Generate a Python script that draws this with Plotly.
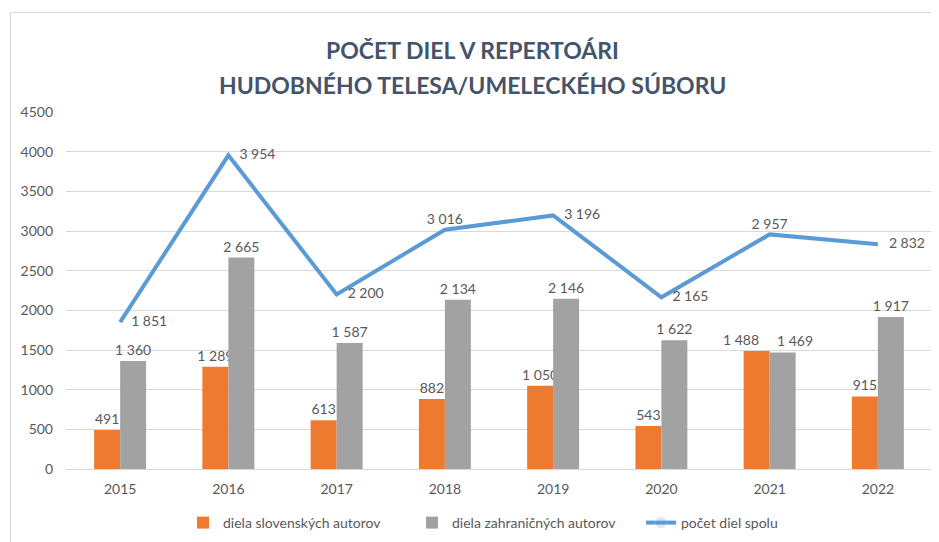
import plotly.graph_objects as go

# ---- data ----
YEARS = ["2015", "2016", "2017", "2018", "2019", "2020", "2021", "2022"]
SLOVAK = [491, 1289, 613, 882, 1050, 543, 1488, 915]
FOREIGN = [1360, 2665, 1587, 2134, 2146, 1622, 1469, 1917]
TOTAL = [1851, 3954, 2200, 3016, 3196, 2165, 2957, 2832]
SERIES_NAMES = ["diela slovenských autorov", "diela zahraničných autorov", "počet diel spolu"]
TITLE_LINES = ["POČET DIEL V REPERTOÁRI", "HUDOBNÉHO TELESA/UMELECKÉHO SÚBORU"]
Y_TICKS = [0, 500, 1000, 1500, 2000, 2500, 3000, 3500, 4000, 4500]


def fmt(v):
    return f"{v:,}".replace(",", " ")


FONT = "Lato"
LABEL_COLOR = "#595959"
GRID = "#D9D9D9"
LABEL_FONT = dict(family=FONT, size=14, color=LABEL_COLOR)

# the 2021 pair of bar labels is nudged apart (as in the original chart)
nudge = YEARS.index("2021")
slovak_text = [fmt(v) if i != nudge else "" for i, v in enumerate(SLOVAK)]
foreign_text = [fmt(v) if i != nudge else "" for i, v in enumerate(FOREIGN)]

fig = go.Figure()
fig.add_trace(go.Bar(
    x=YEARS, y=SLOVAK, name=SERIES_NAMES[0],
    marker=dict(color="#EE7A30", line=dict(width=0)),
    text=slovak_text, textposition="outside", textfont=LABEL_FONT,
    constraintext="none", cliponaxis=False,
))
fig.add_trace(go.Bar(
    x=YEARS, y=FOREIGN, name=SERIES_NAMES[1],
    marker=dict(color="#A2A2A2", line=dict(width=0)),
    text=foreign_text, textposition="outside", textfont=LABEL_FONT,
    constraintext="none", cliponaxis=False,
))
positions = ["middle right", "middle right", "middle right", "top center",
             "middle right", "middle right", "top center", "middle right"]
msizes = [16 if p == "middle right" else 2 for p in positions]
fig.add_trace(go.Scatter(
    x=YEARS, y=TOTAL, name=SERIES_NAMES[2],
    mode="lines+markers+text",
    line=dict(color="#5B9BD5", width=4),
    marker=dict(size=msizes, opacity=0, color="#5B9BD5"),
    text=[fmt(v) for v in TOTAL], textposition=positions, textfont=LABEL_FONT,
    cliponaxis=False,
))

# on a category axis annotations use the category's serial number
for vals, shift in ((SLOVAK, -29), (FOREIGN, 25)):
    fig.add_annotation(
        x=nudge, y=vals[nudge], xref="x", yref="y",
        text=fmt(vals[nudge]), showarrow=False,
        xanchor="center", yanchor="bottom", xshift=shift, yshift=1,
        font=LABEL_FONT,
    )

# page body adds an 8px offset; work in viewport pixels and convert
OFF = 8
W, H = 939 - OFF, 542 - OFF
PX0, PX1, PY0, PY1 = 66, 932, 112, 469  # plot area in viewport px
L, R, T, B = PX0 - OFF, W - (PX1 - OFF), PY0 - OFF, H - (PY1 - OFF)
pw, ph = W - L - R, H - T - B


def px(vx):
    return (vx - PX0) / pw


def py(vy):
    return (PY1 - vy) / ph


for i, line in enumerate(TITLE_LINES):
    fig.add_annotation(
        text=line, xref="paper", yref="paper",
        x=px(472), y=py(50 + 35 * i),
        xanchor="center", yanchor="middle", showarrow=False,
        font=dict(family=FONT, size=23, color="#44546A", weight="bold"),
    )

fig.add_shape(
    type="rect", xref="paper", yref="paper",
    x0=px(10.5), x1=px(960), y0=py(560), y1=py(12.5),
    line=dict(color=GRID, width=1), fillcolor="rgba(0,0,0,0)", layer="below",
)

fig.update_layout(
    width=W, height=H,
    margin=dict(l=L, r=R, t=T, b=B, autoexpand=False),
    paper_bgcolor="white", plot_bgcolor="white",
    barmode="group", bargap=0.52, bargroupgap=0,
    font=dict(family=FONT, size=14, color=LABEL_COLOR),
    showlegend=True,
    legend=dict(orientation="h", x=px(183), xanchor="left",
                y=py(523), yanchor="middle",
                font=LABEL_FONT,
                itemwidth=30, traceorder="normal",
                entrywidth=184, entrywidthmode="pixels"),
    xaxis=dict(type="category", range=[-0.5, len(YEARS) - 0.5],
               showgrid=False, showline=False, zeroline=False, ticks="",
               ticklabelstandoff=10, tickfont=LABEL_FONT),
    yaxis=dict(range=[0, 4500], tickvals=Y_TICKS, ticktext=[str(v) for v in Y_TICKS],
               showgrid=True, gridcolor=GRID, gridwidth=1,
               zeroline=True, zerolinecolor=GRID, zerolinewidth=1,
               showline=False, ticks="", ticklabelstandoff=12,
               tickfont=LABEL_FONT),
)

fig.write_html("out.html")
